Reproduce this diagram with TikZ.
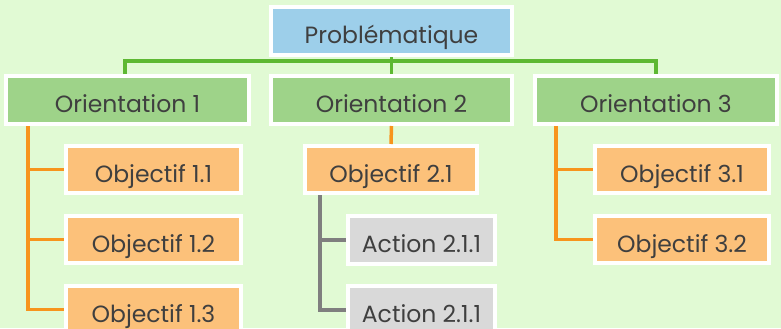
\documentclass[tikz,border=0pt]{standalone}
\usepackage{fontspec}
\setmainfont{Poppins}
\usetikzlibrary{calc}
\definecolor{bgc}{HTML}{E1FAD4}
\definecolor{bluef}{HTML}{9DCFEA}
\definecolor{greenf}{HTML}{9ED389}
\definecolor{orangef}{HTML}{FCC17A}
\definecolor{grayf}{HTML}{D9D9D9}
\definecolor{greenl}{HTML}{5DB832}
\definecolor{orangel}{HTML}{F7941D}
\definecolor{grayl}{HTML}{7F7F7F}
\definecolor{txt}{HTML}{3F3F3F}
\tikzset{
  box/.style={draw=white, line width=4bp, inner sep=0pt, text=txt, text height=25bp, text depth=0bp, font=\fontsize{23.5bp}{26bp}\selectfont},
  glink/.style={draw=greenl, line width=3.5bp},
  olink/.style={draw=orangel, line width=3.5bp},
  alink/.style={draw=grayl, line width=3.5bp},
}
\begin{document}
\begin{tikzpicture}[x=1bp,y=-1bp]
\useasboundingbox (0,0) rectangle (781,328);
\fill[bgc] (0,0) rectangle (781,328);
\begin{scope}
\clip (0,0) rectangle (781,328);
% nodes
\node[box, fill=bluef, minimum width=241bp, minimum height=48bp] (P) at (391.5,31) {Problématique};
\node[box, fill=greenf, minimum width=243bp, minimum height=48bp] (O1) at (127.5,100) {Orientation 1};
\node[box, fill=greenf, minimum width=241bp, minimum height=48bp] (O2) at (391.5,100) {Orientation 2};
\node[box, fill=greenf, minimum width=242bp, minimum height=48bp] (O3) at (656,100) {Orientation 3};
\node[box, fill=orangef, minimum width=175bp, minimum height=47bp] (B11) at (153.5,169.5) {Objectif 1.1};
\node[box, fill=orangef, minimum width=175bp, minimum height=47bp] (B12) at (153.5,239.5) {Objectif 1.2};
\node[box, fill=orangef, minimum width=175bp, minimum height=47bp] (B13) at (153.5,309.5) {Objectif 1.3};
\node[box, fill=orangef, minimum width=172bp, minimum height=47bp] (B21) at (391,169.5) {Objectif 2.1};
\node[box, fill=grayf, minimum width=147bp, minimum height=48bp] (A1) at (421.5,240) {Action 2.1.1};
\node[box, fill=grayf, minimum width=147bp, minimum height=48bp] (A2) at (421.5,310) {Action 2.1.1};
\node[box, fill=orangef, minimum width=174bp, minimum height=47bp] (B31) at (682,169.5) {Objectif 3.1};
\node[box, fill=orangef, minimum width=174bp, minimum height=47bp] (B32) at (682,239.5) {Objectif 3.2};
% connectors
\draw[glink] (P.south) -- (O2.north);
\draw[glink] ($(O1.north)+(-2.5,0)$) -- ++(0,-13) -| (O3.north);
\draw[olink] ($(O1.south west)+(24,0)$) |- (B11.west);
\draw[olink] ($(O1.south west)+(24,0)$) |- (B12.west);
\draw[olink] ($(O1.south west)+(24,0)$) |- (B13.west);
\draw[olink] (O2.south) -- (B21.north);
\draw[alink] ($(B21.south west)+(17,0)$) |- (A1.west);
\draw[alink] ($(B21.south west)+(17,0)$) |- (A2.west);
\draw[olink] ($(O3.south west)+(23,0)$) |- (B31.west);
\draw[olink] ($(O3.south west)+(23,0)$) |- (B32.west);
\end{scope}
\end{tikzpicture}
\end{document}
